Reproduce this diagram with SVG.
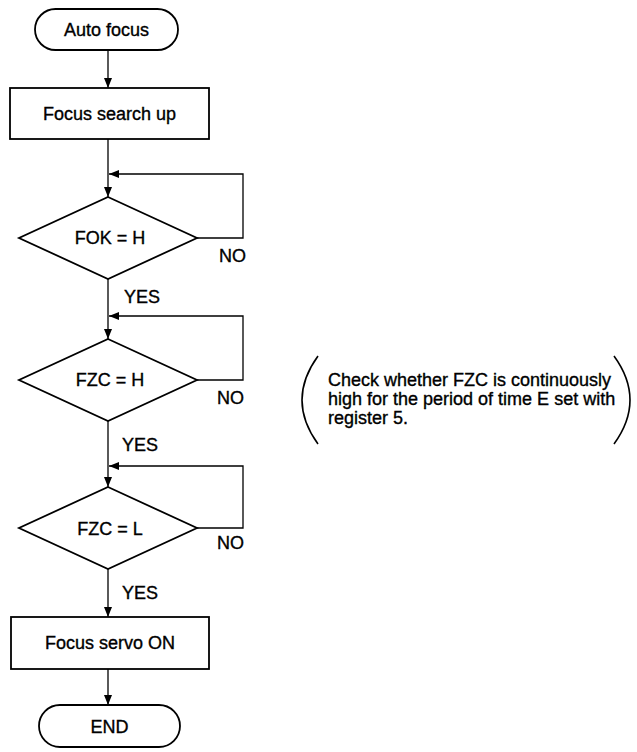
<svg xmlns="http://www.w3.org/2000/svg" width="637" height="752" viewBox="0 0 637 752">
<style>
.s{fill:#fff;stroke:#000;stroke-width:1.8}
.c{fill:none;stroke:#000;stroke-width:1.3}
.t{font-family:"Liberation Sans",Arial,sans-serif;font-size:18px;fill:#000;stroke:#000;stroke-width:0.35;text-anchor:middle}
.l{font-family:"Liberation Sans",Arial,sans-serif;font-size:18px;fill:#000;stroke:#000;stroke-width:0.35}
.p{fill:none;stroke:#000;stroke-width:1.6}
</style>
<defs>
<marker id="a" markerWidth="10" markerHeight="10" refX="10" refY="5" orient="auto" markerUnits="userSpaceOnUse">
<path d="M0,1 L10,5 L0,9 Z" fill="#000"/>
</marker>
</defs>
<rect width="637" height="752" fill="#fff"/>
<g id="connectors">
<line class="c" x1="108" y1="50" x2="108" y2="88" marker-end="url(#a)"/>
<line class="c" x1="108" y1="139" x2="108" y2="197" marker-end="url(#a)"/>
<polyline class="c" points="197,238 243,238 243,174 109,174" marker-end="url(#a)"/>
<line class="c" x1="108" y1="279" x2="108" y2="339" marker-end="url(#a)"/>
<polyline class="c" points="197,380 243,380 243,316 109,316" marker-end="url(#a)"/>
<line class="c" x1="108" y1="421" x2="108" y2="487" marker-end="url(#a)"/>
<polyline class="c" points="197,528 243,528 243,466 109,466" marker-end="url(#a)"/>
<line class="c" x1="108" y1="569" x2="108" y2="617" marker-end="url(#a)"/>
<line class="c" x1="108" y1="669" x2="108" y2="705" marker-end="url(#a)"/>
</g>
<g id="start">
<rect class="s" x="35" y="9" width="143" height="41" rx="20.5"/>
<text class="t" x="106.5" y="36">Auto focus</text>
</g>
<g id="search">
<rect class="s" x="10" y="88" width="199" height="51"/>
<text class="t" x="109.5" y="120">Focus search up</text>
</g>
<g id="fok">
<polygon class="s" points="108,197 197,238 108,279 19,238"/>
<text class="t" x="110" y="244">FOK = H</text>
<text class="l" x="219" y="262">NO</text>
<text class="l" x="124" y="303">YES</text>
</g>
<g id="fzch">
<polygon class="s" points="108,339 197,380 108,421 19,380"/>
<text class="t" x="110" y="386">FZC = H</text>
<text class="l" x="217" y="404">NO</text>
<text class="l" x="122" y="451">YES</text>
</g>
<g id="fzcl">
<polygon class="s" points="108,487 197,528 108,569 19,528"/>
<text class="t" x="110" y="535">FZC = L</text>
<text class="l" x="217" y="549">NO</text>
<text class="l" x="122" y="599">YES</text>
</g>
<g id="servo">
<rect class="s" x="11" y="617" width="198" height="52"/>
<text class="t" x="110" y="649">Focus servo ON</text>
</g>
<g id="end">
<rect class="s" x="39" y="705" width="141" height="42" rx="21"/>
<text class="t" x="109.5" y="733">END</text>
</g>
<g id="note">
<path class="p" d="M318,356 Q286,400 318,444"/>
<path class="p" d="M614,356 Q646,400 614,444"/>
<text class="l" x="328" y="386">Check whether FZC is continuously</text>
<text class="l" x="328" y="405">high for the period of time E set with</text>
<text class="l" x="328" y="424">register 5.</text>
</g>
</svg>
